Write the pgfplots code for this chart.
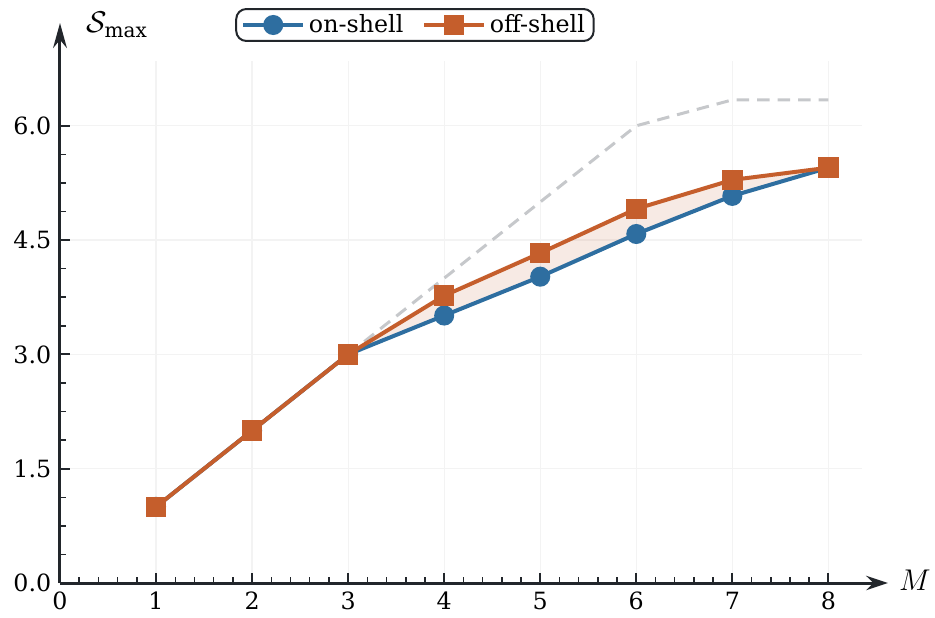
\documentclass[border=0pt]{standalone}
\usepackage{fontspec}
\setmainfont{DejaVu Serif}
\usepackage{pgfplots}
\pgfplotsset{compat=1.18}
\usepgfplotslibrary{fillbetween}
\usetikzlibrary{arrows.meta}
\definecolor{cblue}{RGB}{46,110,160}
\definecolor{corange}{RGB}{197,94,44}
\definecolor{axcol}{RGB}{34,38,43}
\definecolor{dashgray}{RGB}{198,200,203}
\definecolor{gridcol}{RGB}{243,243,243}
\begin{document}
\begin{tikzpicture}
\begin{axis}[name=ax, scale only axis, width=320.8pt, height=208.8pt,
  xmin=0, xmax=8.35, ymin=0, ymax=6.85,
  axis lines=left,
  axis line style={line width=1.2pt, axcol},
  x axis line style={-{Stealth[length=8.7pt,width=5.7pt]}, shorten >=-10.4pt},
  y axis line style={-{Stealth[length=10pt,width=5.5pt]}, shorten >=-15.2pt},
  xtick={0,1,...,8}, ytick={0,1.5,3,4.5,6},
  minor x tick num=4, minor y tick num=3,
  tick align=inside,
  major tick length=4pt, minor tick length=2.4pt,
  every major tick/.append style={line width=0.8pt, axcol},
  every minor tick/.append style={line width=0.6pt, axcol},
  grid=major, major grid style={gridcol, line width=0.5pt},
  /pgf/number format/assume math mode=true,
  every tick label/.append style={font=\fontsize{9.5}{11}\selectfont, text=black},
  yticklabel style={/pgf/number format/.cd, fixed, fixed zerofill, precision=1},
  xlabel={$M$},
  every axis x label/.style={at={(axis description cs:1.066,0.005)}, anchor=center, font=\fontsize{13}{15}\selectfont},
  ylabel={$\mathcal{S}_{\max}$},
  every axis y label/.style={at={(axis description cs:0.0715,1.069)}, anchor=center, font=\fontsize{12}{14}\selectfont},
  legend columns=2,
  legend image code/.code={\draw[mark repeat=2,mark phase=2] plot coordinates {(0pt,0pt)(12pt,0pt)(24pt,0pt)};},
  legend style={at={(0.4426,1.069)}, anchor=center, draw=axcol, line width=0.8pt, rounded corners=4pt,
    font=\fontsize{9.5}{11}\selectfont, inner xsep=2pt, inner ysep=0.5pt,
    nodes={inner sep=1.5pt, text depth=0.3ex},
    /tikz/every even column/.append style={column sep=6pt}},
]
\addplot[dashgray, line width=1.2pt, dash pattern=on 5pt off 3.2pt, forget plot]
  coordinates {(3,3)(4,4)(5,5)(6,6)(7,6.34)(8,6.34)};
\addplot[name path=on, cblue, line width=1.6pt, mark=*, mark size=3.2pt, mark options={solid}]
  coordinates {(1,1)(2,2)(3,3)(4,3.51)(5,4.02)(6,4.58)(7,5.08)(8,5.45)};
\addlegendentry{on-shell}
\addplot[name path=off, corange, line width=1.6pt, mark=square*, mark size=3.3pt, mark options={solid}]
  coordinates {(1,1)(2,2)(3,3)(4,3.77)(5,4.33)(6,4.91)(7,5.29)(8,5.45)};
\addlegendentry{off-shell}
\addplot[corange, fill opacity=0.13, draw=none, forget plot] fill between[of=off and on];
\end{axis}
\pgfresetboundingbox
\path[use as bounding box] (ax.south west) ++(-24pt,-13.6pt) rectangle ++(374pt,246.8pt);
\end{tikzpicture}
\end{document}
